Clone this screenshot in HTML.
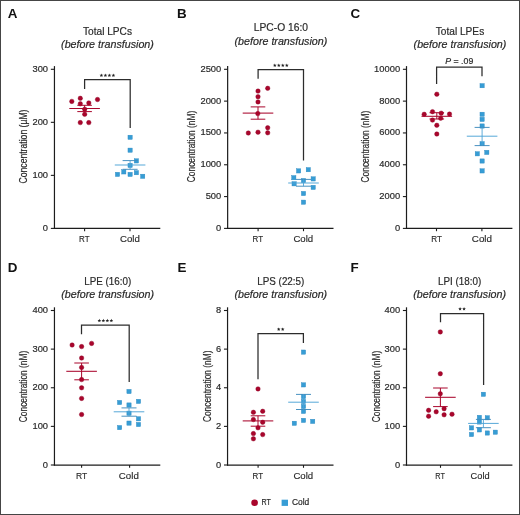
<!DOCTYPE html><html><head><meta charset="utf-8"><style>html,body{margin:0;padding:0;background:#fff;}svg{display:block;will-change:transform;}</style></head><body>
<svg width="520" height="515" viewBox="0 0 520 515" font-family='"Liberation Sans", sans-serif'>
<rect x="0" y="0" width="520" height="515" fill="#fff"/>
<rect x="0.5" y="0.5" width="519" height="514" fill="none" stroke="#454545" stroke-width="1"/>
<text x="7.80" y="17.60" font-size="13.4" text-anchor="start" fill="#111" font-weight="bold" >A</text>
<text x="107.50" y="35.30" font-size="11" text-anchor="middle" fill="#2a2a2a" textLength="49.00" lengthAdjust="spacingAndGlyphs" stroke="#2a2a2a" stroke-width="0.2">Total LPCs</text>
<text x="107.50" y="48.20" font-size="11" text-anchor="middle" fill="#2a2a2a" textLength="92.80" lengthAdjust="spacingAndGlyphs" font-style="italic" stroke="#2a2a2a" stroke-width="0.2">(before transfusion)</text>
<line x1="54.45" y1="66.10" x2="54.45" y2="229.00" stroke="#1c1c1c" stroke-width="1.2"/>
<line x1="53.85" y1="228.40" x2="160.30" y2="228.40" stroke="#1c1c1c" stroke-width="1.25"/>
<line x1="50.85" y1="228.40" x2="54.45" y2="228.40" stroke="#1c1c1c" stroke-width="1.1"/>
<text x="48.05" y="230.90" font-size="9.5" text-anchor="end" fill="#2a2a2a" textLength="5.20" lengthAdjust="spacingAndGlyphs" stroke="#2a2a2a" stroke-width="0.2">0</text>
<line x1="50.85" y1="175.37" x2="54.45" y2="175.37" stroke="#1c1c1c" stroke-width="1.1"/>
<text x="48.05" y="177.87" font-size="9.5" text-anchor="end" fill="#2a2a2a" textLength="15.60" lengthAdjust="spacingAndGlyphs" stroke="#2a2a2a" stroke-width="0.2">100</text>
<line x1="50.85" y1="122.33" x2="54.45" y2="122.33" stroke="#1c1c1c" stroke-width="1.1"/>
<text x="48.05" y="124.83" font-size="9.5" text-anchor="end" fill="#2a2a2a" textLength="15.60" lengthAdjust="spacingAndGlyphs" stroke="#2a2a2a" stroke-width="0.2">200</text>
<line x1="50.85" y1="69.30" x2="54.45" y2="69.30" stroke="#1c1c1c" stroke-width="1.1"/>
<text x="48.05" y="71.80" font-size="9.5" text-anchor="end" fill="#2a2a2a" textLength="15.60" lengthAdjust="spacingAndGlyphs" stroke="#2a2a2a" stroke-width="0.2">300</text>
<line x1="84.60" y1="228.40" x2="84.60" y2="231.20" stroke="#1c1c1c" stroke-width="1.1"/>
<line x1="130.00" y1="228.40" x2="130.00" y2="231.20" stroke="#1c1c1c" stroke-width="1.1"/>
<text x="84.35" y="242.40" font-size="9.3" text-anchor="middle" fill="#2a2a2a" textLength="10.50" lengthAdjust="spacingAndGlyphs" stroke="#2a2a2a" stroke-width="0.15">RT</text>
<text x="129.95" y="242.40" font-size="9.3" text-anchor="middle" fill="#2a2a2a" textLength="19.90" lengthAdjust="spacingAndGlyphs" stroke="#2a2a2a" stroke-width="0.15">Cold</text>
<text transform="translate(27.00,146.50) rotate(-90)" x="0" y="0" font-size="10" text-anchor="middle" fill="#2a2a2a" stroke="#2a2a2a" stroke-width="0.2" textLength="74.00" lengthAdjust="spacingAndGlyphs">Concentration (µM)</text>
<polyline points="84.6,89.0 84.6,79.7 130.2,79.7 130.2,127.9" fill="none" stroke="#2c2c2c" stroke-width="1.25"/>
<polygon points="101.40,73.50 101.90,74.71 103.21,74.81 102.21,75.66 102.52,76.94 101.40,76.26 100.28,76.94 100.59,75.66 99.59,74.81 100.90,74.71" fill="#222"/>
<polygon points="105.40,73.50 105.90,74.71 107.21,74.81 106.21,75.66 106.52,76.94 105.40,76.26 104.28,76.94 104.59,75.66 103.59,74.81 104.90,74.71" fill="#222"/>
<polygon points="109.40,73.50 109.90,74.71 111.21,74.81 110.21,75.66 110.52,76.94 109.40,76.26 108.28,76.94 108.59,75.66 107.59,74.81 108.90,74.71" fill="#222"/>
<polygon points="113.40,73.50 113.90,74.71 115.21,74.81 114.21,75.66 114.52,76.94 113.40,76.26 112.28,76.94 112.59,75.66 111.59,74.81 112.90,74.71" fill="#222"/>
<circle cx="71.80" cy="101.40" r="2.25" fill="#a9062c" stroke="#8e0024" stroke-width="0.4"/>
<circle cx="80.30" cy="98.30" r="2.25" fill="#a9062c" stroke="#8e0024" stroke-width="0.4"/>
<circle cx="97.50" cy="99.50" r="2.25" fill="#a9062c" stroke="#8e0024" stroke-width="0.4"/>
<circle cx="80.30" cy="103.80" r="2.25" fill="#a9062c" stroke="#8e0024" stroke-width="0.4"/>
<circle cx="88.80" cy="102.90" r="2.25" fill="#a9062c" stroke="#8e0024" stroke-width="0.4"/>
<circle cx="84.70" cy="109.20" r="2.25" fill="#a9062c" stroke="#8e0024" stroke-width="0.4"/>
<circle cx="84.70" cy="114.30" r="2.25" fill="#a9062c" stroke="#8e0024" stroke-width="0.4"/>
<circle cx="80.30" cy="122.60" r="2.25" fill="#a9062c" stroke="#8e0024" stroke-width="0.4"/>
<circle cx="88.80" cy="122.60" r="2.25" fill="#a9062c" stroke="#8e0024" stroke-width="0.4"/>
<line x1="69.30" y1="108.50" x2="99.90" y2="108.50" stroke="#a9062c" stroke-width="1.05"/>
<line x1="77.30" y1="105.30" x2="91.90" y2="105.30" stroke="#a9062c" stroke-width="1.0"/>
<line x1="77.30" y1="111.60" x2="91.90" y2="111.60" stroke="#a9062c" stroke-width="1.0"/>
<line x1="84.60" y1="105.30" x2="84.60" y2="111.60" stroke="#a9062c" stroke-width="1.0"/>
<rect x="127.97" y="135.18" width="4.25" height="4.25" fill="#379dd5" stroke="#2a88c0" stroke-width="0.4"/>
<rect x="127.97" y="148.07" width="4.25" height="4.25" fill="#379dd5" stroke="#2a88c0" stroke-width="0.4"/>
<rect x="134.28" y="158.78" width="4.25" height="4.25" fill="#379dd5" stroke="#2a88c0" stroke-width="0.4"/>
<rect x="127.97" y="163.28" width="4.25" height="4.25" fill="#379dd5" stroke="#2a88c0" stroke-width="0.4"/>
<rect x="115.38" y="172.28" width="4.25" height="4.25" fill="#379dd5" stroke="#2a88c0" stroke-width="0.4"/>
<rect x="121.67" y="169.78" width="4.25" height="4.25" fill="#379dd5" stroke="#2a88c0" stroke-width="0.4"/>
<rect x="127.97" y="172.28" width="4.25" height="4.25" fill="#379dd5" stroke="#2a88c0" stroke-width="0.4"/>
<rect x="134.28" y="170.57" width="4.25" height="4.25" fill="#379dd5" stroke="#2a88c0" stroke-width="0.4"/>
<rect x="140.57" y="174.18" width="4.25" height="4.25" fill="#379dd5" stroke="#2a88c0" stroke-width="0.4"/>
<line x1="114.80" y1="165.00" x2="145.40" y2="165.00" stroke="#4da3d6" stroke-width="0.95"/>
<line x1="122.60" y1="160.60" x2="137.60" y2="160.60" stroke="#3f8bbd" stroke-width="0.95"/>
<line x1="122.60" y1="169.30" x2="137.60" y2="169.30" stroke="#3f8bbd" stroke-width="0.95"/>
<line x1="130.10" y1="160.60" x2="130.10" y2="169.30" stroke="#4da3d6" stroke-width="0.9"/>
<text x="177.00" y="17.60" font-size="13.4" text-anchor="start" fill="#111" font-weight="bold" >B</text>
<text x="280.90" y="31.20" font-size="11" text-anchor="middle" fill="#2a2a2a" textLength="54.20" lengthAdjust="spacingAndGlyphs" stroke="#2a2a2a" stroke-width="0.2">LPC-O 16:0</text>
<text x="280.90" y="44.50" font-size="11" text-anchor="middle" fill="#2a2a2a" textLength="92.80" lengthAdjust="spacingAndGlyphs" font-style="italic" stroke="#2a2a2a" stroke-width="0.2">(before transfusion)</text>
<line x1="227.65" y1="66.10" x2="227.65" y2="229.00" stroke="#1c1c1c" stroke-width="1.2"/>
<line x1="227.05" y1="228.40" x2="333.50" y2="228.40" stroke="#1c1c1c" stroke-width="1.25"/>
<line x1="224.05" y1="228.40" x2="227.65" y2="228.40" stroke="#1c1c1c" stroke-width="1.1"/>
<text x="221.25" y="230.90" font-size="9.5" text-anchor="end" fill="#2a2a2a" textLength="5.20" lengthAdjust="spacingAndGlyphs" stroke="#2a2a2a" stroke-width="0.2">0</text>
<line x1="224.05" y1="196.58" x2="227.65" y2="196.58" stroke="#1c1c1c" stroke-width="1.1"/>
<text x="221.25" y="199.08" font-size="9.5" text-anchor="end" fill="#2a2a2a" textLength="15.60" lengthAdjust="spacingAndGlyphs" stroke="#2a2a2a" stroke-width="0.2">500</text>
<line x1="224.05" y1="164.76" x2="227.65" y2="164.76" stroke="#1c1c1c" stroke-width="1.1"/>
<text x="221.25" y="167.26" font-size="9.5" text-anchor="end" fill="#2a2a2a" textLength="20.80" lengthAdjust="spacingAndGlyphs" stroke="#2a2a2a" stroke-width="0.2">1000</text>
<line x1="224.05" y1="132.94" x2="227.65" y2="132.94" stroke="#1c1c1c" stroke-width="1.1"/>
<text x="221.25" y="135.44" font-size="9.5" text-anchor="end" fill="#2a2a2a" textLength="20.80" lengthAdjust="spacingAndGlyphs" stroke="#2a2a2a" stroke-width="0.2">1500</text>
<line x1="224.05" y1="101.12" x2="227.65" y2="101.12" stroke="#1c1c1c" stroke-width="1.1"/>
<text x="221.25" y="103.62" font-size="9.5" text-anchor="end" fill="#2a2a2a" textLength="20.80" lengthAdjust="spacingAndGlyphs" stroke="#2a2a2a" stroke-width="0.2">2000</text>
<line x1="224.05" y1="69.30" x2="227.65" y2="69.30" stroke="#1c1c1c" stroke-width="1.1"/>
<text x="221.25" y="71.80" font-size="9.5" text-anchor="end" fill="#2a2a2a" textLength="20.80" lengthAdjust="spacingAndGlyphs" stroke="#2a2a2a" stroke-width="0.2">2500</text>
<line x1="258.10" y1="228.40" x2="258.10" y2="231.20" stroke="#1c1c1c" stroke-width="1.1"/>
<line x1="303.50" y1="228.40" x2="303.50" y2="231.20" stroke="#1c1c1c" stroke-width="1.1"/>
<text x="257.85" y="242.40" font-size="9.3" text-anchor="middle" fill="#2a2a2a" textLength="10.50" lengthAdjust="spacingAndGlyphs" stroke="#2a2a2a" stroke-width="0.15">RT</text>
<text x="303.30" y="242.40" font-size="9.3" text-anchor="middle" fill="#2a2a2a" textLength="19.80" lengthAdjust="spacingAndGlyphs" stroke="#2a2a2a" stroke-width="0.15">Cold</text>
<text transform="translate(194.90,146.50) rotate(-90)" x="0" y="0" font-size="10" text-anchor="middle" fill="#2a2a2a" stroke="#2a2a2a" stroke-width="0.2" textLength="71.30" lengthAdjust="spacingAndGlyphs">Concentration (nM)</text>
<polyline points="258.1,78.8 258.1,69.7 303.5,69.7 303.5,160.5" fill="none" stroke="#2c2c2c" stroke-width="1.25"/>
<polygon points="274.80,63.50 275.30,64.71 276.61,64.81 275.61,65.66 275.92,66.94 274.80,66.26 273.68,66.94 273.99,65.66 272.99,64.81 274.30,64.71" fill="#222"/>
<polygon points="278.80,63.50 279.30,64.71 280.61,64.81 279.61,65.66 279.92,66.94 278.80,66.26 277.68,66.94 277.99,65.66 276.99,64.81 278.30,64.71" fill="#222"/>
<polygon points="282.80,63.50 283.30,64.71 284.61,64.81 283.61,65.66 283.92,66.94 282.80,66.26 281.68,66.94 281.99,65.66 280.99,64.81 282.30,64.71" fill="#222"/>
<polygon points="286.80,63.50 287.30,64.71 288.61,64.81 287.61,65.66 287.92,66.94 286.80,66.26 285.68,66.94 285.99,65.66 284.99,64.81 286.30,64.71" fill="#222"/>
<circle cx="267.70" cy="88.30" r="2.25" fill="#a9062c" stroke="#8e0024" stroke-width="0.4"/>
<circle cx="258.00" cy="91.10" r="2.25" fill="#a9062c" stroke="#8e0024" stroke-width="0.4"/>
<circle cx="258.00" cy="96.70" r="2.25" fill="#a9062c" stroke="#8e0024" stroke-width="0.4"/>
<circle cx="258.00" cy="101.90" r="2.25" fill="#a9062c" stroke="#8e0024" stroke-width="0.4"/>
<circle cx="257.80" cy="113.60" r="2.25" fill="#a9062c" stroke="#8e0024" stroke-width="0.4"/>
<circle cx="267.70" cy="127.70" r="2.25" fill="#a9062c" stroke="#8e0024" stroke-width="0.4"/>
<circle cx="248.30" cy="133.00" r="2.25" fill="#a9062c" stroke="#8e0024" stroke-width="0.4"/>
<circle cx="258.00" cy="132.20" r="2.25" fill="#a9062c" stroke="#8e0024" stroke-width="0.4"/>
<circle cx="267.70" cy="132.80" r="2.25" fill="#a9062c" stroke="#8e0024" stroke-width="0.4"/>
<line x1="242.70" y1="113.10" x2="273.30" y2="113.10" stroke="#a9062c" stroke-width="1.05"/>
<line x1="250.70" y1="106.90" x2="265.30" y2="106.90" stroke="#a9062c" stroke-width="1.0"/>
<line x1="250.70" y1="119.20" x2="265.30" y2="119.20" stroke="#a9062c" stroke-width="1.0"/>
<line x1="258.00" y1="106.90" x2="258.00" y2="119.20" stroke="#a9062c" stroke-width="1.0"/>
<rect x="296.48" y="168.78" width="4.25" height="4.25" fill="#379dd5" stroke="#2a88c0" stroke-width="0.4"/>
<rect x="306.18" y="167.57" width="4.25" height="4.25" fill="#379dd5" stroke="#2a88c0" stroke-width="0.4"/>
<rect x="291.68" y="175.57" width="4.25" height="4.25" fill="#379dd5" stroke="#2a88c0" stroke-width="0.4"/>
<rect x="301.38" y="178.47" width="4.25" height="4.25" fill="#379dd5" stroke="#2a88c0" stroke-width="0.4"/>
<rect x="311.07" y="176.78" width="4.25" height="4.25" fill="#379dd5" stroke="#2a88c0" stroke-width="0.4"/>
<rect x="291.98" y="181.68" width="4.25" height="4.25" fill="#379dd5" stroke="#2a88c0" stroke-width="0.4"/>
<rect x="311.07" y="185.28" width="4.25" height="4.25" fill="#379dd5" stroke="#2a88c0" stroke-width="0.4"/>
<rect x="301.38" y="191.38" width="4.25" height="4.25" fill="#379dd5" stroke="#2a88c0" stroke-width="0.4"/>
<rect x="301.38" y="200.07" width="4.25" height="4.25" fill="#379dd5" stroke="#2a88c0" stroke-width="0.4"/>
<line x1="288.20" y1="183.00" x2="318.80" y2="183.00" stroke="#4da3d6" stroke-width="0.95"/>
<line x1="296.00" y1="179.40" x2="311.00" y2="179.40" stroke="#3f8bbd" stroke-width="0.95"/>
<line x1="296.00" y1="186.20" x2="311.00" y2="186.20" stroke="#3f8bbd" stroke-width="0.95"/>
<line x1="303.50" y1="179.40" x2="303.50" y2="186.20" stroke="#4da3d6" stroke-width="0.9"/>
<text x="350.60" y="17.60" font-size="13.4" text-anchor="start" fill="#111" font-weight="bold" >C</text>
<text x="460.00" y="34.60" font-size="11" text-anchor="middle" fill="#2a2a2a" textLength="48.40" lengthAdjust="spacingAndGlyphs" stroke="#2a2a2a" stroke-width="0.2">Total LPEs</text>
<text x="460.00" y="48.20" font-size="11" text-anchor="middle" fill="#2a2a2a" textLength="92.80" lengthAdjust="spacingAndGlyphs" font-style="italic" stroke="#2a2a2a" stroke-width="0.2">(before transfusion)</text>
<line x1="406.50" y1="66.10" x2="406.50" y2="229.00" stroke="#1c1c1c" stroke-width="1.2"/>
<line x1="405.90" y1="228.40" x2="512.40" y2="228.40" stroke="#1c1c1c" stroke-width="1.25"/>
<line x1="402.90" y1="228.40" x2="406.50" y2="228.40" stroke="#1c1c1c" stroke-width="1.1"/>
<text x="400.10" y="230.90" font-size="9.5" text-anchor="end" fill="#2a2a2a" textLength="5.20" lengthAdjust="spacingAndGlyphs" stroke="#2a2a2a" stroke-width="0.2">0</text>
<line x1="402.90" y1="196.58" x2="406.50" y2="196.58" stroke="#1c1c1c" stroke-width="1.1"/>
<text x="400.10" y="199.08" font-size="9.5" text-anchor="end" fill="#2a2a2a" textLength="20.80" lengthAdjust="spacingAndGlyphs" stroke="#2a2a2a" stroke-width="0.2">2000</text>
<line x1="402.90" y1="164.76" x2="406.50" y2="164.76" stroke="#1c1c1c" stroke-width="1.1"/>
<text x="400.10" y="167.26" font-size="9.5" text-anchor="end" fill="#2a2a2a" textLength="20.80" lengthAdjust="spacingAndGlyphs" stroke="#2a2a2a" stroke-width="0.2">4000</text>
<line x1="402.90" y1="132.94" x2="406.50" y2="132.94" stroke="#1c1c1c" stroke-width="1.1"/>
<text x="400.10" y="135.44" font-size="9.5" text-anchor="end" fill="#2a2a2a" textLength="20.80" lengthAdjust="spacingAndGlyphs" stroke="#2a2a2a" stroke-width="0.2">6000</text>
<line x1="402.90" y1="101.12" x2="406.50" y2="101.12" stroke="#1c1c1c" stroke-width="1.1"/>
<text x="400.10" y="103.62" font-size="9.5" text-anchor="end" fill="#2a2a2a" textLength="20.80" lengthAdjust="spacingAndGlyphs" stroke="#2a2a2a" stroke-width="0.2">8000</text>
<line x1="402.90" y1="69.30" x2="406.50" y2="69.30" stroke="#1c1c1c" stroke-width="1.1"/>
<text x="400.10" y="71.80" font-size="9.5" text-anchor="end" fill="#2a2a2a" textLength="26.00" lengthAdjust="spacingAndGlyphs" stroke="#2a2a2a" stroke-width="0.2">10000</text>
<line x1="436.50" y1="228.40" x2="436.50" y2="231.20" stroke="#1c1c1c" stroke-width="1.1"/>
<line x1="481.90" y1="228.40" x2="481.90" y2="231.20" stroke="#1c1c1c" stroke-width="1.1"/>
<text x="436.55" y="242.40" font-size="9.3" text-anchor="middle" fill="#2a2a2a" textLength="10.70" lengthAdjust="spacingAndGlyphs" stroke="#2a2a2a" stroke-width="0.15">RT</text>
<text x="481.90" y="242.40" font-size="9.3" text-anchor="middle" fill="#2a2a2a" textLength="20.20" lengthAdjust="spacingAndGlyphs" stroke="#2a2a2a" stroke-width="0.15">Cold</text>
<text transform="translate(369.00,146.60) rotate(-90)" x="0" y="0" font-size="10" text-anchor="middle" fill="#2a2a2a" stroke="#2a2a2a" stroke-width="0.2" textLength="71.70" lengthAdjust="spacingAndGlyphs">Concentration (nM)</text>
<polyline points="436.6,84.0 436.6,67.0 482.0,67.0 482.0,76.2" fill="none" stroke="#2c2c2c" stroke-width="1.25"/>
<text x="459.30" y="64.0" font-size="9" text-anchor="middle" fill="#2a2a2a" stroke="#2a2a2a" stroke-width="0.2" textLength="28.0" lengthAdjust="spacingAndGlyphs"><tspan font-style="italic">P</tspan> = .09</text>
<circle cx="436.80" cy="94.20" r="2.25" fill="#a9062c" stroke="#8e0024" stroke-width="0.4"/>
<circle cx="432.50" cy="111.70" r="2.25" fill="#a9062c" stroke="#8e0024" stroke-width="0.4"/>
<circle cx="424.20" cy="114.30" r="2.25" fill="#a9062c" stroke="#8e0024" stroke-width="0.4"/>
<circle cx="441.20" cy="113.20" r="2.25" fill="#a9062c" stroke="#8e0024" stroke-width="0.4"/>
<circle cx="449.50" cy="114.10" r="2.25" fill="#a9062c" stroke="#8e0024" stroke-width="0.4"/>
<circle cx="432.50" cy="120.10" r="2.25" fill="#a9062c" stroke="#8e0024" stroke-width="0.4"/>
<circle cx="440.70" cy="118.20" r="2.25" fill="#a9062c" stroke="#8e0024" stroke-width="0.4"/>
<circle cx="436.80" cy="125.30" r="2.25" fill="#a9062c" stroke="#8e0024" stroke-width="0.4"/>
<circle cx="436.80" cy="134.00" r="2.25" fill="#a9062c" stroke="#8e0024" stroke-width="0.4"/>
<line x1="421.50" y1="116.30" x2="452.10" y2="116.30" stroke="#a9062c" stroke-width="1.05"/>
<line x1="429.50" y1="112.70" x2="444.10" y2="112.70" stroke="#a9062c" stroke-width="1.0"/>
<line x1="429.50" y1="119.00" x2="444.10" y2="119.00" stroke="#a9062c" stroke-width="1.0"/>
<line x1="436.80" y1="112.70" x2="436.80" y2="119.00" stroke="#a9062c" stroke-width="1.0"/>
<rect x="479.98" y="83.58" width="4.25" height="4.25" fill="#379dd5" stroke="#2a88c0" stroke-width="0.4"/>
<rect x="479.98" y="112.17" width="4.25" height="4.25" fill="#379dd5" stroke="#2a88c0" stroke-width="0.4"/>
<rect x="479.98" y="117.28" width="4.25" height="4.25" fill="#379dd5" stroke="#2a88c0" stroke-width="0.4"/>
<rect x="479.98" y="123.88" width="4.25" height="4.25" fill="#379dd5" stroke="#2a88c0" stroke-width="0.4"/>
<rect x="479.98" y="141.57" width="4.25" height="4.25" fill="#379dd5" stroke="#2a88c0" stroke-width="0.4"/>
<rect x="475.18" y="151.68" width="4.25" height="4.25" fill="#379dd5" stroke="#2a88c0" stroke-width="0.4"/>
<rect x="484.68" y="150.28" width="4.25" height="4.25" fill="#379dd5" stroke="#2a88c0" stroke-width="0.4"/>
<rect x="479.98" y="158.88" width="4.25" height="4.25" fill="#379dd5" stroke="#2a88c0" stroke-width="0.4"/>
<rect x="479.98" y="168.78" width="4.25" height="4.25" fill="#379dd5" stroke="#2a88c0" stroke-width="0.4"/>
<line x1="466.80" y1="136.20" x2="497.40" y2="136.20" stroke="#4da3d6" stroke-width="0.95"/>
<line x1="474.60" y1="127.40" x2="489.60" y2="127.40" stroke="#3f8bbd" stroke-width="0.95"/>
<line x1="474.60" y1="145.60" x2="489.60" y2="145.60" stroke="#3f8bbd" stroke-width="0.95"/>
<line x1="482.10" y1="127.40" x2="482.10" y2="145.60" stroke="#4da3d6" stroke-width="0.9"/>
<text x="7.80" y="271.90" font-size="13.4" text-anchor="start" fill="#111" font-weight="bold" >D</text>
<text x="107.70" y="285.00" font-size="11" text-anchor="middle" fill="#2a2a2a" textLength="47.00" lengthAdjust="spacingAndGlyphs" stroke="#2a2a2a" stroke-width="0.2">LPE (16:0)</text>
<text x="107.70" y="298.40" font-size="11" text-anchor="middle" fill="#2a2a2a" textLength="92.80" lengthAdjust="spacingAndGlyphs" font-style="italic" stroke="#2a2a2a" stroke-width="0.2">(before transfusion)</text>
<line x1="54.45" y1="307.30" x2="54.45" y2="465.60" stroke="#1c1c1c" stroke-width="1.2"/>
<line x1="53.85" y1="465.00" x2="160.30" y2="465.00" stroke="#1c1c1c" stroke-width="1.25"/>
<line x1="50.85" y1="465.00" x2="54.45" y2="465.00" stroke="#1c1c1c" stroke-width="1.1"/>
<text x="48.05" y="467.50" font-size="9.5" text-anchor="end" fill="#2a2a2a" textLength="5.20" lengthAdjust="spacingAndGlyphs" stroke="#2a2a2a" stroke-width="0.2">0</text>
<line x1="50.85" y1="426.38" x2="54.45" y2="426.38" stroke="#1c1c1c" stroke-width="1.1"/>
<text x="48.05" y="428.88" font-size="9.5" text-anchor="end" fill="#2a2a2a" textLength="15.60" lengthAdjust="spacingAndGlyphs" stroke="#2a2a2a" stroke-width="0.2">100</text>
<line x1="50.85" y1="387.75" x2="54.45" y2="387.75" stroke="#1c1c1c" stroke-width="1.1"/>
<text x="48.05" y="390.25" font-size="9.5" text-anchor="end" fill="#2a2a2a" textLength="15.60" lengthAdjust="spacingAndGlyphs" stroke="#2a2a2a" stroke-width="0.2">200</text>
<line x1="50.85" y1="349.12" x2="54.45" y2="349.12" stroke="#1c1c1c" stroke-width="1.1"/>
<text x="48.05" y="351.62" font-size="9.5" text-anchor="end" fill="#2a2a2a" textLength="15.60" lengthAdjust="spacingAndGlyphs" stroke="#2a2a2a" stroke-width="0.2">300</text>
<line x1="50.85" y1="310.50" x2="54.45" y2="310.50" stroke="#1c1c1c" stroke-width="1.1"/>
<text x="48.05" y="313.00" font-size="9.5" text-anchor="end" fill="#2a2a2a" textLength="15.60" lengthAdjust="spacingAndGlyphs" stroke="#2a2a2a" stroke-width="0.2">400</text>
<line x1="81.60" y1="465.00" x2="81.60" y2="467.80" stroke="#1c1c1c" stroke-width="1.1"/>
<line x1="129.60" y1="465.00" x2="129.60" y2="467.80" stroke="#1c1c1c" stroke-width="1.1"/>
<text x="81.70" y="479.30" font-size="9.3" text-anchor="middle" fill="#2a2a2a" textLength="11.20" lengthAdjust="spacingAndGlyphs" stroke="#2a2a2a" stroke-width="0.15">RT</text>
<text x="128.80" y="479.30" font-size="9.3" text-anchor="middle" fill="#2a2a2a" textLength="20.00" lengthAdjust="spacingAndGlyphs" stroke="#2a2a2a" stroke-width="0.15">Cold</text>
<text transform="translate(27.10,386.50) rotate(-90)" x="0" y="0" font-size="10" text-anchor="middle" fill="#2a2a2a" stroke="#2a2a2a" stroke-width="0.2" textLength="71.30" lengthAdjust="spacingAndGlyphs">Concentration (nM)</text>
<polyline points="81.5,334.3 81.5,325.2 129.2,325.2 129.2,382.0" fill="none" stroke="#2c2c2c" stroke-width="1.25"/>
<polygon points="99.35,318.80 99.85,320.01 101.16,320.11 100.16,320.96 100.47,322.24 99.35,321.56 98.23,322.24 98.54,320.96 97.54,320.11 98.85,320.01" fill="#222"/>
<polygon points="103.35,318.80 103.85,320.01 105.16,320.11 104.16,320.96 104.47,322.24 103.35,321.56 102.23,322.24 102.54,320.96 101.54,320.11 102.85,320.01" fill="#222"/>
<polygon points="107.35,318.80 107.85,320.01 109.16,320.11 108.16,320.96 108.47,322.24 107.35,321.56 106.23,322.24 106.54,320.96 105.54,320.11 106.85,320.01" fill="#222"/>
<polygon points="111.35,318.80 111.85,320.01 113.16,320.11 112.16,320.96 112.47,322.24 111.35,321.56 110.23,322.24 110.54,320.96 109.54,320.11 110.85,320.01" fill="#222"/>
<circle cx="72.10" cy="345.00" r="2.25" fill="#a9062c" stroke="#8e0024" stroke-width="0.4"/>
<circle cx="81.60" cy="346.60" r="2.25" fill="#a9062c" stroke="#8e0024" stroke-width="0.4"/>
<circle cx="91.60" cy="343.40" r="2.25" fill="#a9062c" stroke="#8e0024" stroke-width="0.4"/>
<circle cx="81.60" cy="358.00" r="2.25" fill="#a9062c" stroke="#8e0024" stroke-width="0.4"/>
<circle cx="81.60" cy="367.40" r="2.25" fill="#a9062c" stroke="#8e0024" stroke-width="0.4"/>
<circle cx="81.60" cy="379.60" r="2.25" fill="#a9062c" stroke="#8e0024" stroke-width="0.4"/>
<circle cx="81.60" cy="387.80" r="2.25" fill="#a9062c" stroke="#8e0024" stroke-width="0.4"/>
<circle cx="81.60" cy="398.40" r="2.25" fill="#a9062c" stroke="#8e0024" stroke-width="0.4"/>
<circle cx="81.60" cy="414.50" r="2.25" fill="#a9062c" stroke="#8e0024" stroke-width="0.4"/>
<line x1="66.30" y1="371.30" x2="96.90" y2="371.30" stroke="#a9062c" stroke-width="1.05"/>
<line x1="74.30" y1="363.00" x2="88.90" y2="363.00" stroke="#a9062c" stroke-width="1.0"/>
<line x1="74.30" y1="379.80" x2="88.90" y2="379.80" stroke="#a9062c" stroke-width="1.0"/>
<line x1="81.60" y1="363.00" x2="81.60" y2="379.80" stroke="#a9062c" stroke-width="1.0"/>
<rect x="126.88" y="389.38" width="4.25" height="4.25" fill="#379dd5" stroke="#2a88c0" stroke-width="0.4"/>
<rect x="117.47" y="400.38" width="4.25" height="4.25" fill="#379dd5" stroke="#2a88c0" stroke-width="0.4"/>
<rect x="136.38" y="399.27" width="4.25" height="4.25" fill="#379dd5" stroke="#2a88c0" stroke-width="0.4"/>
<rect x="126.88" y="402.88" width="4.25" height="4.25" fill="#379dd5" stroke="#2a88c0" stroke-width="0.4"/>
<rect x="126.88" y="411.07" width="4.25" height="4.25" fill="#379dd5" stroke="#2a88c0" stroke-width="0.4"/>
<rect x="136.38" y="416.68" width="4.25" height="4.25" fill="#379dd5" stroke="#2a88c0" stroke-width="0.4"/>
<rect x="126.88" y="420.98" width="4.25" height="4.25" fill="#379dd5" stroke="#2a88c0" stroke-width="0.4"/>
<rect x="136.38" y="422.38" width="4.25" height="4.25" fill="#379dd5" stroke="#2a88c0" stroke-width="0.4"/>
<rect x="117.47" y="425.48" width="4.25" height="4.25" fill="#379dd5" stroke="#2a88c0" stroke-width="0.4"/>
<line x1="113.70" y1="411.80" x2="144.30" y2="411.80" stroke="#4da3d6" stroke-width="0.95"/>
<line x1="121.50" y1="407.90" x2="136.50" y2="407.90" stroke="#3f8bbd" stroke-width="0.95"/>
<line x1="121.50" y1="416.20" x2="136.50" y2="416.20" stroke="#3f8bbd" stroke-width="0.95"/>
<line x1="129.00" y1="407.90" x2="129.00" y2="416.20" stroke="#4da3d6" stroke-width="0.9"/>
<text x="177.50" y="272.10" font-size="13.4" text-anchor="start" fill="#111" font-weight="bold" >E</text>
<text x="280.80" y="285.00" font-size="11" text-anchor="middle" fill="#2a2a2a" textLength="47.10" lengthAdjust="spacingAndGlyphs" stroke="#2a2a2a" stroke-width="0.2">LPS (22:5)</text>
<text x="280.80" y="298.40" font-size="11" text-anchor="middle" fill="#2a2a2a" textLength="92.80" lengthAdjust="spacingAndGlyphs" font-style="italic" stroke="#2a2a2a" stroke-width="0.2">(before transfusion)</text>
<line x1="227.55" y1="307.30" x2="227.55" y2="465.60" stroke="#1c1c1c" stroke-width="1.2"/>
<line x1="226.95" y1="465.00" x2="333.50" y2="465.00" stroke="#1c1c1c" stroke-width="1.25"/>
<line x1="223.95" y1="465.00" x2="227.55" y2="465.00" stroke="#1c1c1c" stroke-width="1.1"/>
<text x="221.15" y="467.50" font-size="9.5" text-anchor="end" fill="#2a2a2a" textLength="5.20" lengthAdjust="spacingAndGlyphs" stroke="#2a2a2a" stroke-width="0.2">0</text>
<line x1="223.95" y1="426.38" x2="227.55" y2="426.38" stroke="#1c1c1c" stroke-width="1.1"/>
<text x="221.15" y="428.88" font-size="9.5" text-anchor="end" fill="#2a2a2a" textLength="5.20" lengthAdjust="spacingAndGlyphs" stroke="#2a2a2a" stroke-width="0.2">2</text>
<line x1="223.95" y1="387.75" x2="227.55" y2="387.75" stroke="#1c1c1c" stroke-width="1.1"/>
<text x="221.15" y="390.25" font-size="9.5" text-anchor="end" fill="#2a2a2a" textLength="5.20" lengthAdjust="spacingAndGlyphs" stroke="#2a2a2a" stroke-width="0.2">4</text>
<line x1="223.95" y1="349.12" x2="227.55" y2="349.12" stroke="#1c1c1c" stroke-width="1.1"/>
<text x="221.15" y="351.62" font-size="9.5" text-anchor="end" fill="#2a2a2a" textLength="5.20" lengthAdjust="spacingAndGlyphs" stroke="#2a2a2a" stroke-width="0.2">6</text>
<line x1="223.95" y1="310.50" x2="227.55" y2="310.50" stroke="#1c1c1c" stroke-width="1.1"/>
<text x="221.15" y="313.00" font-size="9.5" text-anchor="end" fill="#2a2a2a" textLength="5.20" lengthAdjust="spacingAndGlyphs" stroke="#2a2a2a" stroke-width="0.2">8</text>
<line x1="258.10" y1="465.00" x2="258.10" y2="467.80" stroke="#1c1c1c" stroke-width="1.1"/>
<line x1="303.50" y1="465.00" x2="303.50" y2="467.80" stroke="#1c1c1c" stroke-width="1.1"/>
<text x="257.85" y="479.30" font-size="9.3" text-anchor="middle" fill="#2a2a2a" textLength="10.50" lengthAdjust="spacingAndGlyphs" stroke="#2a2a2a" stroke-width="0.15">RT</text>
<text x="303.30" y="479.30" font-size="9.3" text-anchor="middle" fill="#2a2a2a" textLength="19.80" lengthAdjust="spacingAndGlyphs" stroke="#2a2a2a" stroke-width="0.15">Cold</text>
<text transform="translate(210.60,386.30) rotate(-90)" x="0" y="0" font-size="10" text-anchor="middle" fill="#2a2a2a" stroke="#2a2a2a" stroke-width="0.2" textLength="71.60" lengthAdjust="spacingAndGlyphs">Concentration (nM)</text>
<polyline points="258.0,379.3 258.0,333.6 303.4,333.6 303.4,342.9" fill="none" stroke="#2c2c2c" stroke-width="1.25"/>
<polygon points="278.70,327.40 279.20,328.61 280.51,328.71 279.51,329.56 279.82,330.84 278.70,330.16 277.58,330.84 277.89,329.56 276.89,328.71 278.20,328.61" fill="#222"/>
<polygon points="282.70,327.40 283.20,328.61 284.51,328.71 283.51,329.56 283.82,330.84 282.70,330.16 281.58,330.84 281.89,329.56 280.89,328.71 282.20,328.61" fill="#222"/>
<circle cx="258.00" cy="388.90" r="2.25" fill="#a9062c" stroke="#8e0024" stroke-width="0.4"/>
<circle cx="253.40" cy="412.30" r="2.25" fill="#a9062c" stroke="#8e0024" stroke-width="0.4"/>
<circle cx="262.70" cy="411.30" r="2.25" fill="#a9062c" stroke="#8e0024" stroke-width="0.4"/>
<circle cx="253.40" cy="419.60" r="2.25" fill="#a9062c" stroke="#8e0024" stroke-width="0.4"/>
<circle cx="262.70" cy="422.30" r="2.25" fill="#a9062c" stroke="#8e0024" stroke-width="0.4"/>
<circle cx="258.00" cy="427.80" r="2.25" fill="#a9062c" stroke="#8e0024" stroke-width="0.4"/>
<circle cx="253.40" cy="433.60" r="2.25" fill="#a9062c" stroke="#8e0024" stroke-width="0.4"/>
<circle cx="262.70" cy="434.60" r="2.25" fill="#a9062c" stroke="#8e0024" stroke-width="0.4"/>
<circle cx="253.40" cy="438.80" r="2.25" fill="#a9062c" stroke="#8e0024" stroke-width="0.4"/>
<line x1="242.70" y1="420.90" x2="273.30" y2="420.90" stroke="#a9062c" stroke-width="1.05"/>
<line x1="250.70" y1="415.80" x2="265.30" y2="415.80" stroke="#a9062c" stroke-width="1.0"/>
<line x1="250.70" y1="426.20" x2="265.30" y2="426.20" stroke="#a9062c" stroke-width="1.0"/>
<line x1="258.00" y1="415.80" x2="258.00" y2="426.20" stroke="#a9062c" stroke-width="1.0"/>
<rect x="301.38" y="349.98" width="4.25" height="4.25" fill="#379dd5" stroke="#2a88c0" stroke-width="0.4"/>
<rect x="301.38" y="382.77" width="4.25" height="4.25" fill="#379dd5" stroke="#2a88c0" stroke-width="0.4"/>
<rect x="301.38" y="394.48" width="4.25" height="4.25" fill="#379dd5" stroke="#2a88c0" stroke-width="0.4"/>
<rect x="301.38" y="399.38" width="4.25" height="4.25" fill="#379dd5" stroke="#2a88c0" stroke-width="0.4"/>
<rect x="301.38" y="404.38" width="4.25" height="4.25" fill="#379dd5" stroke="#2a88c0" stroke-width="0.4"/>
<rect x="301.38" y="409.27" width="4.25" height="4.25" fill="#379dd5" stroke="#2a88c0" stroke-width="0.4"/>
<rect x="301.38" y="418.27" width="4.25" height="4.25" fill="#379dd5" stroke="#2a88c0" stroke-width="0.4"/>
<rect x="292.18" y="421.18" width="4.25" height="4.25" fill="#379dd5" stroke="#2a88c0" stroke-width="0.4"/>
<rect x="310.57" y="419.27" width="4.25" height="4.25" fill="#379dd5" stroke="#2a88c0" stroke-width="0.4"/>
<line x1="288.20" y1="402.20" x2="318.80" y2="402.20" stroke="#4da3d6" stroke-width="0.95"/>
<line x1="296.00" y1="394.40" x2="311.00" y2="394.40" stroke="#3f8bbd" stroke-width="0.95"/>
<line x1="296.00" y1="409.50" x2="311.00" y2="409.50" stroke="#3f8bbd" stroke-width="0.95"/>
<line x1="303.50" y1="394.40" x2="303.50" y2="409.50" stroke="#4da3d6" stroke-width="0.9"/>
<text x="350.60" y="272.10" font-size="13.4" text-anchor="start" fill="#111" font-weight="bold" >F</text>
<text x="459.60" y="285.00" font-size="11" text-anchor="middle" fill="#2a2a2a" textLength="43.20" lengthAdjust="spacingAndGlyphs" stroke="#2a2a2a" stroke-width="0.2">LPI (18:0)</text>
<text x="459.60" y="298.40" font-size="11" text-anchor="middle" fill="#2a2a2a" textLength="92.80" lengthAdjust="spacingAndGlyphs" font-style="italic" stroke="#2a2a2a" stroke-width="0.2">(before transfusion)</text>
<line x1="406.50" y1="307.30" x2="406.50" y2="465.60" stroke="#1c1c1c" stroke-width="1.2"/>
<line x1="405.90" y1="465.00" x2="512.40" y2="465.00" stroke="#1c1c1c" stroke-width="1.25"/>
<line x1="402.90" y1="465.00" x2="406.50" y2="465.00" stroke="#1c1c1c" stroke-width="1.1"/>
<text x="400.10" y="467.50" font-size="9.5" text-anchor="end" fill="#2a2a2a" textLength="5.20" lengthAdjust="spacingAndGlyphs" stroke="#2a2a2a" stroke-width="0.2">0</text>
<line x1="402.90" y1="426.38" x2="406.50" y2="426.38" stroke="#1c1c1c" stroke-width="1.1"/>
<text x="400.10" y="428.88" font-size="9.5" text-anchor="end" fill="#2a2a2a" textLength="15.60" lengthAdjust="spacingAndGlyphs" stroke="#2a2a2a" stroke-width="0.2">100</text>
<line x1="402.90" y1="387.75" x2="406.50" y2="387.75" stroke="#1c1c1c" stroke-width="1.1"/>
<text x="400.10" y="390.25" font-size="9.5" text-anchor="end" fill="#2a2a2a" textLength="15.60" lengthAdjust="spacingAndGlyphs" stroke="#2a2a2a" stroke-width="0.2">200</text>
<line x1="402.90" y1="349.12" x2="406.50" y2="349.12" stroke="#1c1c1c" stroke-width="1.1"/>
<text x="400.10" y="351.62" font-size="9.5" text-anchor="end" fill="#2a2a2a" textLength="15.60" lengthAdjust="spacingAndGlyphs" stroke="#2a2a2a" stroke-width="0.2">300</text>
<line x1="402.90" y1="310.50" x2="406.50" y2="310.50" stroke="#1c1c1c" stroke-width="1.1"/>
<text x="400.10" y="313.00" font-size="9.5" text-anchor="end" fill="#2a2a2a" textLength="15.60" lengthAdjust="spacingAndGlyphs" stroke="#2a2a2a" stroke-width="0.2">400</text>
<line x1="440.50" y1="465.00" x2="440.50" y2="467.80" stroke="#1c1c1c" stroke-width="1.1"/>
<line x1="480.10" y1="465.00" x2="480.10" y2="467.80" stroke="#1c1c1c" stroke-width="1.1"/>
<text x="440.10" y="479.30" font-size="9.3" text-anchor="middle" fill="#2a2a2a" textLength="9.60" lengthAdjust="spacingAndGlyphs" stroke="#2a2a2a" stroke-width="0.15">RT</text>
<text x="480.10" y="479.30" font-size="9.3" text-anchor="middle" fill="#2a2a2a" textLength="19.00" lengthAdjust="spacingAndGlyphs" stroke="#2a2a2a" stroke-width="0.15">Cold</text>
<text transform="translate(379.60,386.50) rotate(-90)" x="0" y="0" font-size="10" text-anchor="middle" fill="#2a2a2a" stroke="#2a2a2a" stroke-width="0.2" textLength="71.30" lengthAdjust="spacingAndGlyphs">Concentration (nM)</text>
<polyline points="440.5,322.2 440.5,313.6 483.6,313.6 483.6,385.0" fill="none" stroke="#2c2c2c" stroke-width="1.25"/>
<polygon points="460.05,307.10 460.55,308.31 461.86,308.41 460.86,309.26 461.17,310.54 460.05,309.86 458.93,310.54 459.24,309.26 458.24,308.41 459.55,308.31" fill="#222"/>
<polygon points="464.05,307.10 464.55,308.31 465.86,308.41 464.86,309.26 465.17,310.54 464.05,309.86 462.93,310.54 463.24,309.26 462.24,308.41 463.55,308.31" fill="#222"/>
<circle cx="440.30" cy="331.90" r="2.25" fill="#a9062c" stroke="#8e0024" stroke-width="0.4"/>
<circle cx="440.30" cy="373.70" r="2.25" fill="#a9062c" stroke="#8e0024" stroke-width="0.4"/>
<circle cx="440.30" cy="393.80" r="2.25" fill="#a9062c" stroke="#8e0024" stroke-width="0.4"/>
<circle cx="444.10" cy="408.70" r="2.25" fill="#a9062c" stroke="#8e0024" stroke-width="0.4"/>
<circle cx="428.60" cy="410.30" r="2.25" fill="#a9062c" stroke="#8e0024" stroke-width="0.4"/>
<circle cx="436.20" cy="411.80" r="2.25" fill="#a9062c" stroke="#8e0024" stroke-width="0.4"/>
<circle cx="428.60" cy="416.20" r="2.25" fill="#a9062c" stroke="#8e0024" stroke-width="0.4"/>
<circle cx="444.10" cy="414.80" r="2.25" fill="#a9062c" stroke="#8e0024" stroke-width="0.4"/>
<circle cx="452.00" cy="414.20" r="2.25" fill="#a9062c" stroke="#8e0024" stroke-width="0.4"/>
<line x1="425.10" y1="397.30" x2="455.70" y2="397.30" stroke="#a9062c" stroke-width="1.05"/>
<line x1="433.10" y1="388.00" x2="447.70" y2="388.00" stroke="#a9062c" stroke-width="1.0"/>
<line x1="433.10" y1="406.60" x2="447.70" y2="406.60" stroke="#a9062c" stroke-width="1.0"/>
<line x1="440.40" y1="388.00" x2="440.40" y2="406.60" stroke="#a9062c" stroke-width="1.0"/>
<rect x="481.27" y="392.18" width="4.25" height="4.25" fill="#379dd5" stroke="#2a88c0" stroke-width="0.4"/>
<rect x="477.27" y="415.27" width="4.25" height="4.25" fill="#379dd5" stroke="#2a88c0" stroke-width="0.4"/>
<rect x="485.18" y="415.68" width="4.25" height="4.25" fill="#379dd5" stroke="#2a88c0" stroke-width="0.4"/>
<rect x="477.27" y="419.88" width="4.25" height="4.25" fill="#379dd5" stroke="#2a88c0" stroke-width="0.4"/>
<rect x="469.38" y="425.77" width="4.25" height="4.25" fill="#379dd5" stroke="#2a88c0" stroke-width="0.4"/>
<rect x="477.27" y="427.77" width="4.25" height="4.25" fill="#379dd5" stroke="#2a88c0" stroke-width="0.4"/>
<rect x="469.38" y="432.38" width="4.25" height="4.25" fill="#379dd5" stroke="#2a88c0" stroke-width="0.4"/>
<rect x="485.18" y="430.88" width="4.25" height="4.25" fill="#379dd5" stroke="#2a88c0" stroke-width="0.4"/>
<rect x="493.18" y="430.07" width="4.25" height="4.25" fill="#379dd5" stroke="#2a88c0" stroke-width="0.4"/>
<line x1="468.10" y1="423.40" x2="498.70" y2="423.40" stroke="#4da3d6" stroke-width="0.95"/>
<line x1="475.90" y1="419.40" x2="490.90" y2="419.40" stroke="#3f8bbd" stroke-width="0.95"/>
<line x1="475.90" y1="427.70" x2="490.90" y2="427.70" stroke="#3f8bbd" stroke-width="0.95"/>
<line x1="483.40" y1="419.40" x2="483.40" y2="427.70" stroke="#4da3d6" stroke-width="0.9"/>
<circle cx="254.6" cy="502.8" r="3.3" fill="#a9062c"/>
<text x="261.60" y="505.30" font-size="9" text-anchor="start" fill="#2a2a2a" textLength="9.30" lengthAdjust="spacingAndGlyphs" stroke="#2a2a2a" stroke-width="0.2">RT</text>
<rect x="281.6" y="499.7" width="6.4" height="6.2" fill="#379dd5"/>
<text x="291.90" y="505.30" font-size="9" text-anchor="start" fill="#2a2a2a" textLength="17.30" lengthAdjust="spacingAndGlyphs" stroke="#2a2a2a" stroke-width="0.2">Cold</text>
</svg></body></html>
